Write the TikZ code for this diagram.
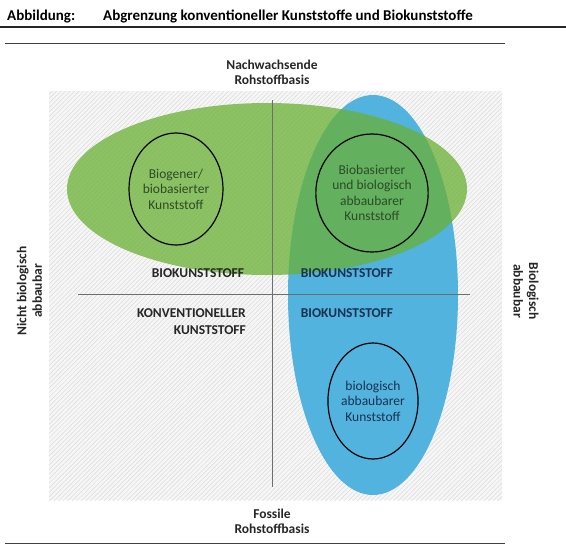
\documentclass[tikz,border=0pt]{standalone}
\usepackage{fontspec}
\setmainfont{Carlito}
\usetikzlibrary{shapes.geometric,patterns.meta}

\definecolor{hatchbg}{RGB}{246,246,246}
\definecolor{hatchline}{RGB}{218,218,218}
\definecolor{biogruen}{RGB}{105,176,52}
\definecolor{bioblau}{RGB}{82,179,222}
\definecolor{textgruen}{RGB}{45,75,40}
\definecolor{textblau}{RGB}{25,50,80}
\definecolor{achsgrau}{RGB}{110,110,110}

\begin{document}
\begin{tikzpicture}[
    x=1pt, y=-1pt,
    every node/.style={inner sep=0pt, font=\fontsize{13.5}{15.5}\selectfont},
    rule/.style={line width=1.1pt, black!85},
    titletext/.style={anchor=base west, font=\fontsize{15}{18}\selectfont\bfseries},
    axisline/.style={line width=0.8pt, achsgrau},
    axistext/.style={align=center, font=\fontsize{13.5}{15.5}\selectfont\bfseries, black!85},
    quadtext/.style={align=center, font=\fontsize{13.5}{16.5}\selectfont\bfseries},
    hull/.style={ellipse, draw=none},
    kernel/.style={ellipse, draw=black, line width=1.2pt, align=center}
]
    \useasboundingbox (0,0) rectangle (566,555);

    % Kopfzeile
    \node[titletext] (abb) at (7,20) {Abbildung:};
    \node[titletext] (titel) at (103,20) {Abgrenzung konventioneller Kunststoffe und Biokunststoffe};
    \draw[rule] (0,27) -- (566,27);
    \draw[line width=0.9pt, black!75] (5,43) -- (505,43);
    \draw[line width=0.9pt, black!75] (5,543) -- (505,543);

    % schraffierter Hintergrund
    \fill[hatchbg] (49,91) rectangle (502,500);
    \fill[pattern={Lines[angle=45, distance=3.2pt, line width=0.5pt]}, pattern color=hatchline]
        (49,91) rectangle (502,500);

    % Flaechen: biologisch abbaubar (blau), biobasiert (gruen)
    \node[hull, fill=bioblau, minimum width=170pt, minimum height=400pt] (abbaubar) at (373,295) {};
    \node[hull, fill=biogruen, fill opacity=0.75, minimum width=400pt, minimum height=172pt] (biobasiert) at (267,189) {};

    % Achsen
    \draw[axisline] (272,100) -- (272,487);
    \draw[axisline] (78,294) -- (470,294);

    % Kerne
    \node[kernel, minimum width=86pt, minimum height=112pt, text=textgruen] (biogen) at (176,189)
        {Biogener/\\biobasierter\\Kunststoff};
    \node[kernel, minimum width=84pt, minimum height=118pt, text=textgruen] (beides) at (372,193)
        {Biobasierter\\und biologisch\\abbaubarer\\Kunststoff};
    \node[kernel, minimum width=88pt, minimum height=116pt, text=textblau] (abbau) at (373,401)
        {biologisch\\abbaubarer\\Kunststoff};

    % Quadranten
    \node[quadtext, black!85] (q1) at (198,273) {BIOKUNSTSTOFF};
    \node[quadtext, textblau] (q2) at (347,273) {BIOKUNSTSTOFF};
    \node[quadtext, textblau] (q4) at (347,313) {BIOKUNSTSTOFF};
    \node[quadtext, black!85, align=right, anchor=east] (q3) at (246,321.5) {KONVENTIONELLER\\KUNSTSTOFF};

    % Achsbeschriftungen
    \node[axistext] (oben) at (272,72.5) {Nachwachsende\\Rohstoffbasis};
    \node[axistext] (unten) at (272,521.5) {Fossile\\Rohstoffbasis};
    \node[axistext, rotate=90] (links) at (29.5,291) {Nicht biologisch\\abbaubar};
    \node[axistext, rotate=-90] (rechts) at (526,291) {Biologisch\\abbaubar};
\end{tikzpicture}
\end{document}
